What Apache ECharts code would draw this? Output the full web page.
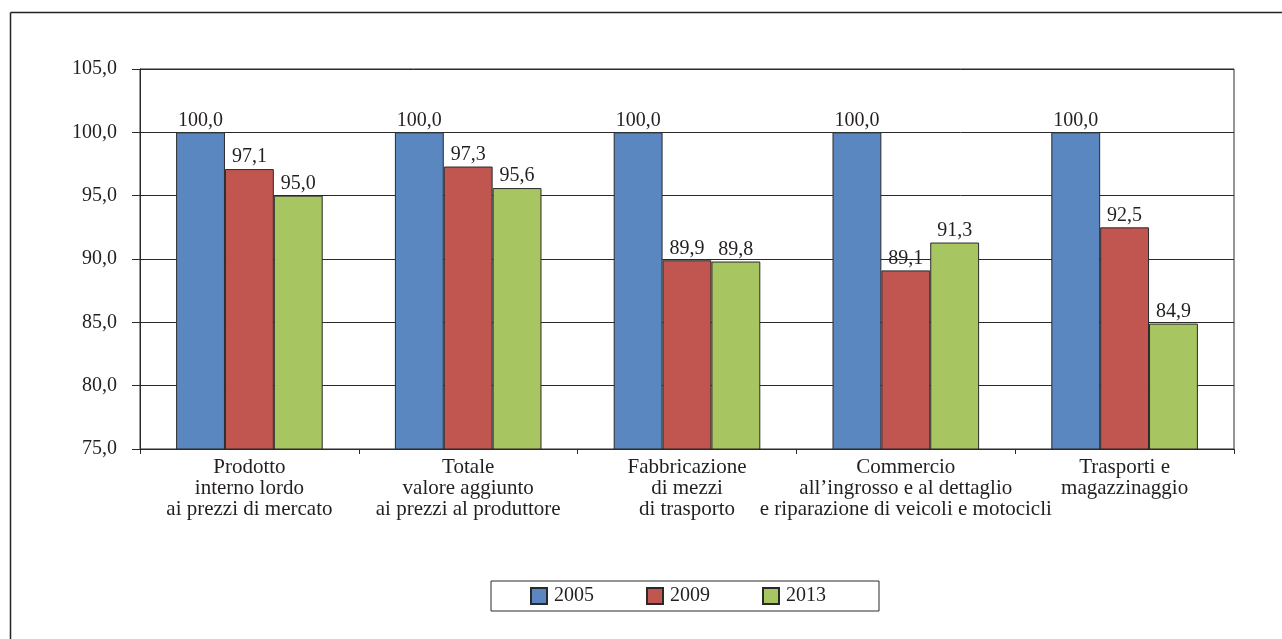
<!DOCTYPE html>
<html>
<head>
<meta charset="utf-8">
<script src="https://cdn.jsdelivr.net/npm/echarts@6/dist/echarts.min.js"></script>
<style>
  html, body { margin: 0; padding: 0; background: #fff; }
  #chart { width: 1282px; height: 639px; }
</style>
</head>
<body>
<div id="chart"></div>
<script>
// Categories (sector labels, multi-line)
const categories = [
  'Prodotto\ninterno lordo\nai prezzi di mercato',
  'Totale\nvalore aggiunto\nai prezzi al produttore',
  'Fabbricazione\ndi mezzi\ndi trasporto',
  'Commercio\nall\u2019ingrosso e al dettaglio\ne riparazione di veicoli e motocicli',
  'Trasporti e\nmagazzinaggio'
];

// Index values, 2005 = 100
const years = ['2005', '2009', '2013'];
const values2005 = [100.0, 100.0, 100.0, 100.0, 100.0];
const values2009 = [97.1, 97.3, 89.9, 89.1, 92.5];
const values2013 = [95.0, 95.6, 89.8, 91.3, 84.9];

const colors = ['#5A87C0', '#C1554F', '#A7C560'];
const font = 'Liberation Serif';
const ink = '#231F20';

const fmt = v => Number(v).toFixed(1).replace('.', ',');

function barSeries(name, data, color) {
  return {
    name: name,
    type: 'bar',
    data: data,
    barGap: '0%',
    barCategoryGap: '33%',
    itemStyle: { color: color, borderColor: '#2a2a2a', borderWidth: 1 },
    label: {
      show: true,
      position: 'top',
      distance: 2,
      color: ink,
      fontFamily: font,
      fontSize: 20,
      formatter: p => fmt(p.value)
    }
  };
}

const chart = echarts.init(document.getElementById('chart'), null, { renderer: 'canvas' });

chart.setOption({
  animation: false,
  backgroundColor: '#ffffff',
  grid: {
    left: 140, right: 48, top: 69, bottom: 190,
    show: true, borderColor: '#2a2a2a', borderWidth: 1
  },
  graphic: [
    { type: 'line', shape: { x1: 10.5, y1: 12.5, x2: 1282, y2: 12.5 }, style: { stroke: '#222', lineWidth: 1.5 } },
    { type: 'line', shape: { x1: 10.5, y1: 12.5, x2: 10.5, y2: 639 }, style: { stroke: '#222', lineWidth: 1.5 } }
  ],
  legend: {
    data: years,
    left: 491,
    top: 581,
    orient: 'horizontal',
    padding: [5, 53, 5, 39],
    itemWidth: 16,
    itemHeight: 16,
    itemGap: 52,
    icon: 'rect',
    borderColor: '#2a2a2a',
    borderWidth: 1,
    textStyle: { fontFamily: font, fontSize: 20, color: ink, padding: [0, 0, 0, 2] }
  },
  xAxis: {
    type: 'category',
    data: categories,
    axisLine: { show: true, lineStyle: { color: '#2a2a2a', width: 1 } },
    axisTick: { show: true, inside: false, length: 5, alignWithLabel: false, lineStyle: { color: '#2a2a2a' } },
    axisLabel: {
      interval: 0,
      margin: 8,
      color: ink,
      fontFamily: font,
      fontSize: 21,
      lineHeight: 21,
      align: 'center'
    }
  },
  yAxis: {
    type: 'value',
    min: 75,
    max: 105,
    interval: 5,
    axisLine: { show: true, lineStyle: { color: '#2a2a2a', width: 1 } },
    axisTick: { show: true, inside: false, length: 8, lineStyle: { color: '#2a2a2a' } },
    splitLine: { show: true, lineStyle: { color: '#2a2a2a', width: 1 } },
    axisLabel: {
      margin: 23,
      color: ink,
      fontFamily: font,
      fontSize: 20,
      formatter: v => fmt(v)
    }
  },
  series: [
    barSeries(years[0], values2005, colors[0]),
    barSeries(years[1], values2009, colors[1]),
    barSeries(years[2], values2013, colors[2])
  ]
});
</script>
</body>
</html>
